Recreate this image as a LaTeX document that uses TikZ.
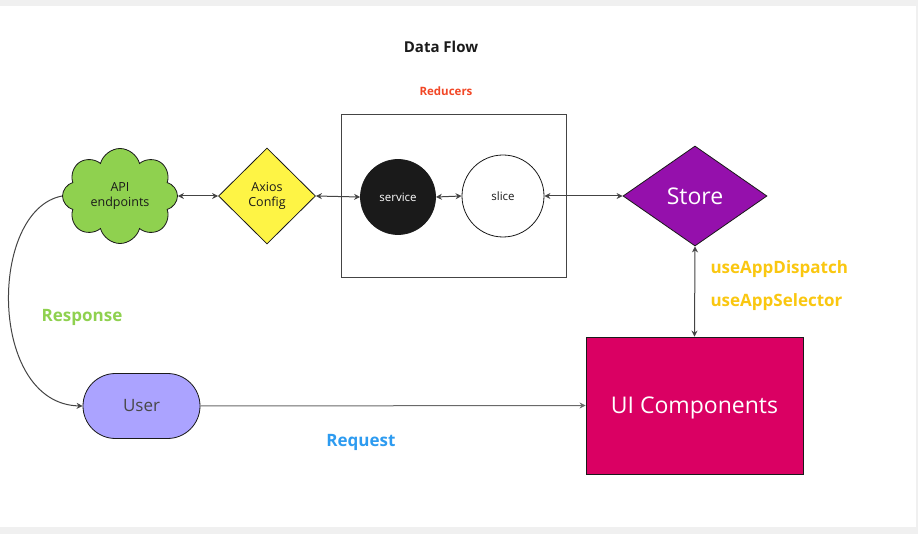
\documentclass[tikz,border=0pt]{standalone}
\usepackage{fontspec}
\setmainfont{Open Sans}
\usepackage{tikz}
\usetikzlibrary{arrows.meta,positioning,shapes.geometric,shapes.symbols}
\definecolor{linegray}{HTML}{444444}
\definecolor{mirogreen}{HTML}{8FD14F}
\definecolor{miroyellow}{HTML}{FEF445}
\definecolor{mirored}{HTML}{F24726}
\definecolor{miropurple}{HTML}{9510AC}
\definecolor{miromagenta}{HTML}{DA0063}
\definecolor{mirolavender}{HTML}{ABA3FF}
\definecolor{miroblue}{HTML}{2D9BF0}
\definecolor{miroamber}{HTML}{FAC710}
\definecolor{nearblack}{HTML}{1A1A1A}
\tikzset{shape base/.style={draw=nearblack, line width=0.8pt, inner sep=0pt, align=center},
flow/.style={draw=linegray, line width=1pt, -{Stealth[length=6pt,width=6pt]}},
biflow/.style={flow, {Stealth[length=6pt,width=6pt]}-{Stealth[length=6pt,width=6pt]}},
tag/.style={font=\bfseries\fontsize{17}{20}\selectfont}}

\begin{document}
\begin{tikzpicture}[x=1pt, y=-1pt]
        \useasboundingbox (0,0) rectangle (918,534);
        \fill[black!6] (0,0) rectangle (918,534);
        \fill[white] (0,6) rectangle (916,527);

        \node[font=\bfseries\fontsize{15}{18}\selectfont, text=nearblack] (title) at (441, 47) {Data Flow};
        \node[font=\bfseries\fontsize{11.5}{14}\selectfont, text=mirored] (redlabel) at (446, 91) {Reducers};

        \node[shape base, draw=linegray, minimum width=225pt, minimum height=163pt] (reducers) at (453.5, 195.5) {};

        \node[shape base, cloud, cloud puffs=8, aspect=1.2, fill=mirogreen, minimum width=115pt, minimum height=95pt,
              font=\fontsize{12.5}{15}\selectfont, text=nearblack] (api) at (120, 196) {API\\endpoints};
        \node[shape base, diamond, fill=miroyellow, minimum width=97pt, minimum height=96pt,
              font=\fontsize{12.5}{15}\selectfont, text=nearblack] (axios) at (267, 196) {Axios\\Config};
        \node[shape base, circle, fill=nearblack, minimum size=75pt,
              font=\fontsize{11.5}{14}\selectfont, text=white] (service) at (398, 197) {service};
        \node[shape base, circle, fill=white, minimum size=82pt,
              font=\fontsize{11.5}{14}\selectfont, text=nearblack] (slice) at (503, 196) {slice};
        \node[shape base, diamond, fill=miropurple, minimum width=144pt, minimum height=100pt,
              font=\fontsize{23}{27}\selectfont, text=white] (store) at (695, 196) {Store};
        \node[shape base, rectangle, fill=miromagenta, minimum width=217pt, minimum height=137pt, text depth=0pt,
              font=\fontsize{23}{27}\selectfont, text=white] (ui) at (694.5, 405.5) {UI Components};
        \node[shape base, rectangle, rounded corners=32.5pt, fill=mirolavender, minimum width=117pt, minimum height=65pt,
              font=\fontsize{17}{20}\selectfont, text=nearblack!80] (user) at (141.5, 406) {User};

        \node[tag, text=mirogreen] (response) at (82, 317) {Response};
        \node[tag, text=miroblue] (request) at (361, 442) {Request};
        \node[tag, text=miroamber, anchor=west] (dispatch) at (707, 269) {useAppDispatch};
        \node[tag, text=miroamber, anchor=west] (selector) at (707, 302) {useAppSelector};

        \draw (api.east) edge[biflow] (axios.west)
              (axios.east) edge[biflow] (service.west)
              (service.east) edge[biflow] (slice.west)
              (slice.east) edge[biflow] (store.west)
              (store.south) edge[biflow] (ui.north)
              (user.east) edge[flow, draw=linegray!80] (ui.west);
        \draw[flow] (api.west) .. controls (-12, 210) and (-12, 404) .. (user.west);
    \end{tikzpicture}
\end{document}
